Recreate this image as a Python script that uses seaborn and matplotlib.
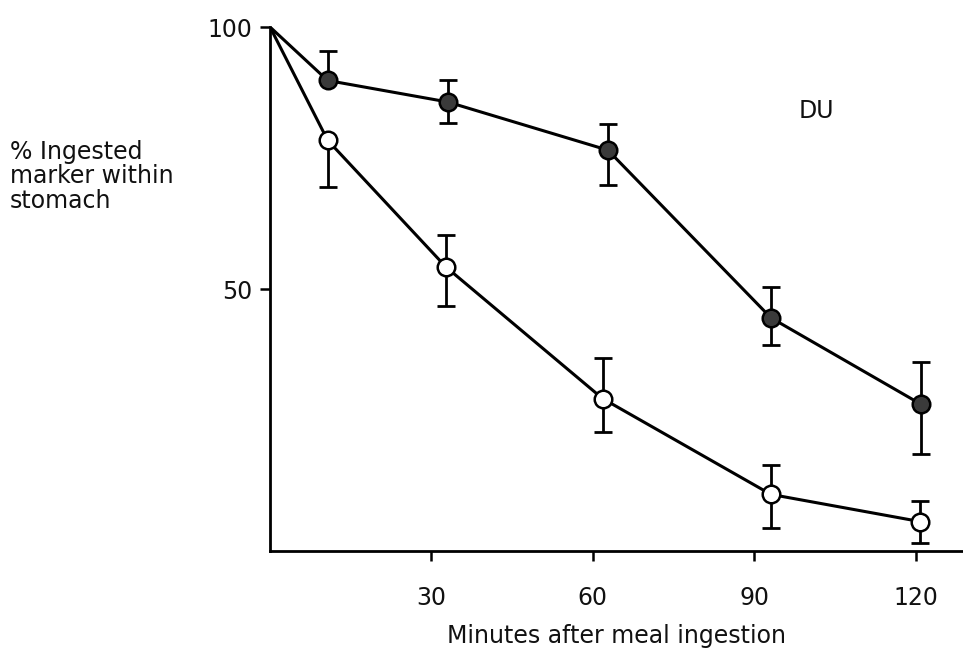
import matplotlib
matplotlib.use("Agg")
import matplotlib.pyplot as plt
import seaborn as sns
import numpy as np
import pandas as pd

# Data (minutes after meal, % ingested marker within stomach)
start_time = [0.0]
start_value = [100.0]

filled_times = [10.7, 33.0, 62.8, 93.1, 121.0]
filled_mean = [89.8, 85.7, 76.5, 44.5, 28.0]
filled_upper = [95.4, 89.8, 81.4, 50.4, 36.1]
filled_lower = [89.8, 81.6, 69.8, 39.3, 18.5]

open_times = [10.7, 32.7, 61.8, 93.1, 120.9]
open_mean = [78.4, 54.2, 29.1, 10.8, 5.6]
open_upper = [78.4, 60.4, 36.8, 16.4, 9.5]
open_lower = [69.5, 46.8, 22.8, 4.4, 1.5]

x_ticks = [30, 60, 90, 120]
y_ticks = [50, 100]
panel_label = "DU"

sns.set_theme(style="white")
plt.rcParams['font.family'] = ['DejaVu Sans']

fig = plt.figure(figsize=(9.63, 6.59), dpi=100)
ax = fig.add_axes([0.2804, 0.1639, 0.7196, 0.7951])

df_f = pd.DataFrame({"t": start_time + filled_times, "v": start_value + filled_mean})
df_o = pd.DataFrame({"t": start_time + open_times, "v": start_value + open_mean})

sns.lineplot(data=df_f, x="t", y="v", ax=ax, color="black", lw=2.2, zorder=2)
sns.lineplot(data=df_o, x="t", y="v", ax=ax, color="black", lw=2.2, zorder=2)

fm = np.array(filled_mean)
om = np.array(open_mean)
ax.errorbar(filled_times, fm, yerr=[fm - np.array(filled_lower), np.array(filled_upper) - fm],
            fmt="none", ecolor="black", elinewidth=2.0, capsize=6.5, capthick=2.0, zorder=3)
ax.errorbar(open_times, om, yerr=[om - np.array(open_lower), np.array(open_upper) - om],
            fmt="none", ecolor="black", elinewidth=2.0, capsize=6.5, capthick=2.0, zorder=3)

sns.scatterplot(x=filled_times, y=filled_mean, ax=ax, s=160, color="#3a3a3a",
                edgecolor="black", linewidth=1.8, zorder=5)
sns.scatterplot(x=open_times, y=open_mean, ax=ax, s=160, color="white",
                edgecolor="black", linewidth=1.8, zorder=5)

ax.set_xlim(0, 128.8)
ax.set_ylim(0, 100)
ax.set_xticks(x_ticks)
ax.set_yticks(y_ticks)
ax.set_xticklabels([str(v) for v in x_ticks])
ax.set_yticklabels([str(v) for v in y_ticks])
ax.tick_params(axis="x", direction="out", length=7, width=1.8, pad=18,
               labelsize=17, color="black", labelcolor="#111111", bottom=True)
ax.tick_params(axis="y", direction="out", length=7, width=1.8, pad=6,
               labelsize=17, color="black", labelcolor="#111111", left=True)
for s in ["top", "right"]:
    ax.spines[s].set_visible(False)
for s in ["left", "bottom"]:
    ax.spines[s].set_color("black")
    ax.spines[s].set_linewidth(2.0)

ax.set_xlabel("Minutes after meal ingestion", fontsize=17, color="#111111", labelpad=10)
ax.set_ylabel("")

fig.text(0.010, 0.788, "% Ingested\nmarker within\nstomach", ha="left", va="top",
         fontsize=17, color="#111111", linespacing=1.03)
ax.text(0.788, 0.84, panel_label, transform=ax.transAxes, fontsize=17,
        color="#111111", ha="center", va="center")

fig.savefig("out.png", dpi=100)
